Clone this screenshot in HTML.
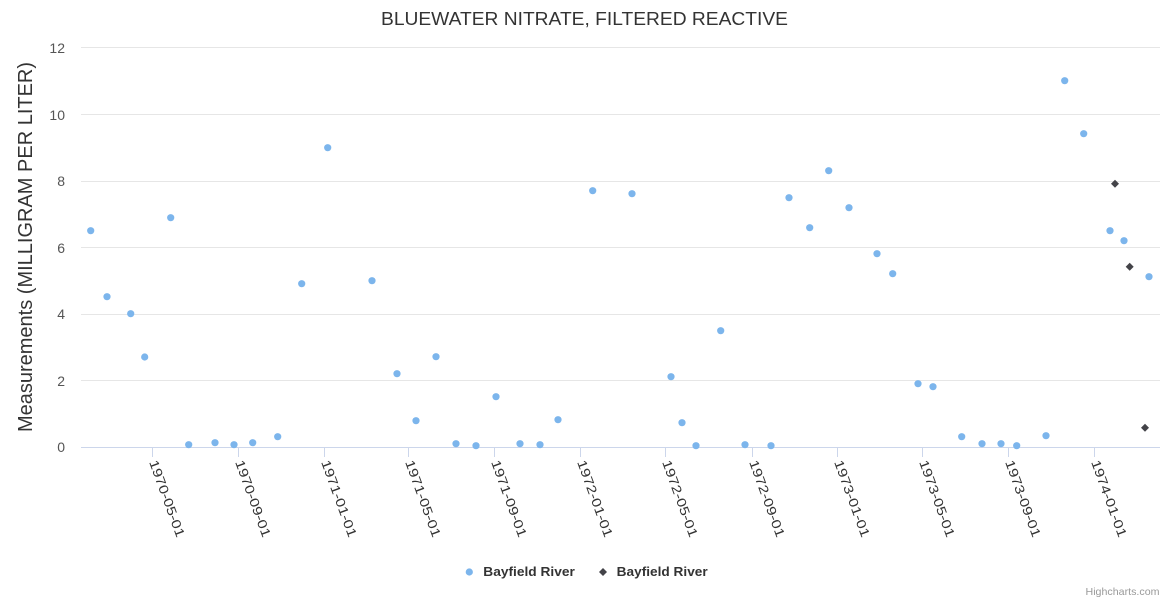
<!DOCTYPE html>
<html>
<head>
<meta charset="utf-8">
<style>
  html, body { margin: 0; padding: 0; background: #ffffff; }
  svg { display: block; font-family: "Liberation Sans", Arial, sans-serif; }
</style>
</head>
<body>
<svg width="1170" height="600" viewBox="0 0 1170 600" xmlns="http://www.w3.org/2000/svg">
  <rect x="0" y="0" width="1170" height="600" fill="#ffffff"/>

  <text x="584.5" y="25" text-anchor="middle" font-size="18" fill="#333333" textLength="407" lengthAdjust="spacingAndGlyphs">BLUEWATER NITRATE, FILTERED REACTIVE</text>

  <g stroke="#e6e6e6" stroke-width="1">
    <line x1="81" y1="47.5" x2="1160" y2="47.5"/>
    <line x1="81" y1="114.5" x2="1160" y2="114.5"/>
    <line x1="81" y1="181.5" x2="1160" y2="181.5"/>
    <line x1="81" y1="247.5" x2="1160" y2="247.5"/>
    <line x1="81" y1="314.5" x2="1160" y2="314.5"/>
    <line x1="81" y1="380.5" x2="1160" y2="380.5"/>
  </g>
  <line x1="81" y1="447.5" x2="1160" y2="447.5" stroke="#ccd6eb" stroke-width="1"/>

  <g font-size="14" fill="#555555" text-anchor="end">
    <text x="65" y="53">12</text>
    <text x="65" y="120">10</text>
    <text x="65" y="186">8</text>
    <text x="65" y="253">6</text>
    <text x="65" y="319">4</text>
    <text x="65" y="386">2</text>
    <text x="65" y="452">0</text>
  </g>

  <text transform="translate(32,247) rotate(-90)" text-anchor="middle" font-size="20" fill="#333333">Measurements (MILLIGRAM PER LITER)</text>

  <g stroke="#ccd6eb" stroke-width="1">
    <line x1="152.5" y1="447" x2="152.5" y2="457"/>
    <line x1="238.5" y1="447" x2="238.5" y2="457"/>
    <line x1="324.5" y1="447" x2="324.5" y2="457"/>
    <line x1="408.5" y1="447" x2="408.5" y2="457"/>
    <line x1="494.5" y1="447" x2="494.5" y2="457"/>
    <line x1="580.5" y1="447" x2="580.5" y2="457"/>
    <line x1="665.5" y1="447" x2="665.5" y2="457"/>
    <line x1="752.5" y1="447" x2="752.5" y2="457"/>
    <line x1="837.5" y1="447" x2="837.5" y2="457"/>
    <line x1="922.5" y1="447" x2="922.5" y2="457"/>
    <line x1="1008.5" y1="447" x2="1008.5" y2="457"/>
    <line x1="1094.5" y1="447" x2="1094.5" y2="457"/>
  </g>

  <g font-size="13" fill="#333333">
    <text transform="translate(149,462) rotate(70)" textLength="81" lengthAdjust="spacingAndGlyphs">1970-05-01</text>
    <text transform="translate(235,462) rotate(70)" textLength="81" lengthAdjust="spacingAndGlyphs">1970-09-01</text>
    <text transform="translate(321,462) rotate(70)" textLength="81" lengthAdjust="spacingAndGlyphs">1971-01-01</text>
    <text transform="translate(405,462) rotate(70)" textLength="81" lengthAdjust="spacingAndGlyphs">1971-05-01</text>
    <text transform="translate(491,462) rotate(70)" textLength="81" lengthAdjust="spacingAndGlyphs">1971-09-01</text>
    <text transform="translate(577,462) rotate(70)" textLength="81" lengthAdjust="spacingAndGlyphs">1972-01-01</text>
    <text transform="translate(662,462) rotate(70)" textLength="81" lengthAdjust="spacingAndGlyphs">1972-05-01</text>
    <text transform="translate(749,462) rotate(70)" textLength="81" lengthAdjust="spacingAndGlyphs">1972-09-01</text>
    <text transform="translate(834,462) rotate(70)" textLength="81" lengthAdjust="spacingAndGlyphs">1973-01-01</text>
    <text transform="translate(919,462) rotate(70)" textLength="81" lengthAdjust="spacingAndGlyphs">1973-05-01</text>
    <text transform="translate(1005,462) rotate(70)" textLength="81" lengthAdjust="spacingAndGlyphs">1973-09-01</text>
    <text transform="translate(1091,462) rotate(70)" textLength="81" lengthAdjust="spacingAndGlyphs">1974-01-01</text>
  </g>

  <g fill="#7cb5ec">
    <circle cx="90.7" cy="230.7" r="3.6"/>
    <circle cx="107" cy="296.7" r="3.6"/>
    <circle cx="130.7" cy="313.7" r="3.6"/>
    <circle cx="144.7" cy="357" r="3.6"/>
    <circle cx="170.7" cy="217.7" r="3.6"/>
    <circle cx="188.7" cy="444.7" r="3.6"/>
    <circle cx="215" cy="442.7" r="3.6"/>
    <circle cx="234" cy="444.7" r="3.6"/>
    <circle cx="252.7" cy="442.7" r="3.6"/>
    <circle cx="277.7" cy="436.7" r="3.6"/>
    <circle cx="301.7" cy="283.7" r="3.6"/>
    <circle cx="327.7" cy="147.7" r="3.6"/>
    <circle cx="372" cy="280.7" r="3.6"/>
    <circle cx="397" cy="373.7" r="3.6"/>
    <circle cx="416" cy="420.7" r="3.6"/>
    <circle cx="436" cy="356.7" r="3.6"/>
    <circle cx="456" cy="443.7" r="3.6"/>
    <circle cx="476" cy="445.7" r="3.6"/>
    <circle cx="496" cy="396.7" r="3.6"/>
    <circle cx="520" cy="443.7" r="3.6"/>
    <circle cx="540" cy="444.7" r="3.6"/>
    <circle cx="558" cy="419.7" r="3.6"/>
    <circle cx="592.7" cy="190.7" r="3.6"/>
    <circle cx="632" cy="193.7" r="3.6"/>
    <circle cx="671" cy="376.7" r="3.6"/>
    <circle cx="682" cy="422.7" r="3.6"/>
    <circle cx="696" cy="445.7" r="3.6"/>
    <circle cx="720.7" cy="330.7" r="3.6"/>
    <circle cx="745" cy="444.7" r="3.6"/>
    <circle cx="771" cy="445.7" r="3.6"/>
    <circle cx="789" cy="197.7" r="3.6"/>
    <circle cx="809.7" cy="227.7" r="3.6"/>
    <circle cx="828.7" cy="170.7" r="3.6"/>
    <circle cx="849" cy="207.7" r="3.6"/>
    <circle cx="877" cy="253.7" r="3.6"/>
    <circle cx="892.7" cy="273.7" r="3.6"/>
    <circle cx="918" cy="383.7" r="3.6"/>
    <circle cx="933" cy="386.7" r="3.6"/>
    <circle cx="961.7" cy="436.7" r="3.6"/>
    <circle cx="982" cy="443.7" r="3.6"/>
    <circle cx="1001" cy="443.7" r="3.6"/>
    <circle cx="1016.7" cy="445.7" r="3.6"/>
    <circle cx="1046" cy="435.7" r="3.6"/>
    <circle cx="1064.7" cy="80.7" r="3.6"/>
    <circle cx="1083.7" cy="133.7" r="3.6"/>
    <circle cx="1110" cy="230.7" r="3.6"/>
    <circle cx="1124" cy="240.7" r="3.6"/>
    <circle cx="1149" cy="276.7" r="3.6"/>
  </g>

  <g fill="#434348">
    <path d="M1115 179.7 L1119 183.7 L1115 187.7 L1111 183.7 Z"/>
    <path d="M1129.7 262.7 L1133.7 266.7 L1129.7 270.7 L1125.7 266.7 Z"/>
    <path d="M1145 423.7 L1149 427.7 L1145 431.7 L1141 427.7 Z"/>
  </g>

  <circle cx="469.3" cy="572" r="3.6" fill="#7cb5ec"/>
  <text x="483.3" y="576" font-size="12.5" font-weight="bold" fill="#333333" textLength="91.5" lengthAdjust="spacingAndGlyphs">Bayfield River</text>
  <path d="M603 568 L607 572 L603 576 L599 572 Z" fill="#434348"/>
  <text x="616.7" y="576" font-size="12.5" font-weight="bold" fill="#333333" textLength="91" lengthAdjust="spacingAndGlyphs">Bayfield River</text>

  <text x="1159.5" y="595" text-anchor="end" font-size="10.5" fill="#999999" textLength="74" lengthAdjust="spacingAndGlyphs">Highcharts.com</text>
</svg>
</body>
</html>
